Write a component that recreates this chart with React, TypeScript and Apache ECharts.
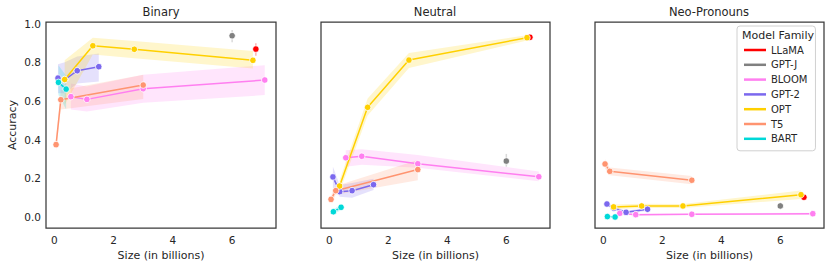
import React, { useEffect, useRef } from 'react';
import * as echarts from 'echarts';

const families = ['LLaMA', 'GPT-J', 'BLOOM', 'GPT-2', 'OPT', 'T5', 'BART'];
const familyColors = ['#ff0000', '#808080', '#ff7ff0', '#7b68ee', '#ffd000', '#ff9470', '#00d8d8'];
const panelTitles = ['Binary', 'Neutral', 'Neo-Pronouns'];

// model sizes (in billions), per family
const llamaSize = [6.8];
const gptjSize = [6.0];
const bloomSize = [0.56, 1.1, 3.0, 7.1];
const gpt2Size = [0.124, 0.355, 0.774, 1.5];
const optSize = [0.35, 1.3, 2.7, 6.7];
const t5Size = [0.06, 0.22, 3.0];
const bartSize = [0.14, 0.4];
const familySizes = [llamaSize, gptjSize, bloomSize, gpt2Size, optSize, t5Size, bartSize];

// Binary: mean accuracy, lower / upper confidence
const binaryAcc = [[0.868], [0.937], [0.622, 0.608, 0.663, 0.708], [0.718, 0.71, 0.756, 0.777], [0.711, 0.885, 0.867, 0.81], [0.374, 0.606, 0.682], [0.696, 0.661]];
const binaryLo = [[0.834], [0.903], [0.555, 0.545, 0.59, 0.63], [0.64, 0.64, 0.69, 0.70], [0.58, 0.84, 0.82, 0.768], [0.34, 0.555, 0.61], [0.63, 0.555]];
const binaryHi = [[0.898], [0.966], [0.69, 0.675, 0.735, 0.785], [0.79, 0.80, 0.83, 0.845], [0.81, 0.927, 0.91, 0.858], [0.40, 0.655, 0.735], [0.785, 0.73]];

// Neutral
const neutralAcc = [[0.929], [0.289], [0.306, 0.314, 0.275, 0.208], [0.207, 0.131, 0.136, 0.167], [0.160, 0.567, 0.811, 0.927], [0.091, 0.136, 0.245], [0.027, 0.05]];
const neutralLo = [[0.92], [0.26], [0.26, 0.27, 0.255, 0.185], [0.15, 0.105, 0.10, 0.14], [0.13, 0.525, 0.77, 0.912], [0.07, 0.115, 0.19], [0.015, 0.035]];
const neutralHi = [[0.938], [0.326], [0.345, 0.35, 0.32, 0.235], [0.26, 0.165, 0.175, 0.197], [0.19, 0.612, 0.848, 0.94], [0.11, 0.16, 0.295], [0.04, 0.065]];

// Neo-Pronouns
const neoAcc = [[0.102], [0.057], [0.019, 0.012, 0.014, 0.017], [0.067, 0.045, 0.024, 0.040], [0.052, 0.057, 0.057, 0.115], [0.274, 0.236, 0.19], [0.002, 0.0]];
const neoLo = [[0.088], [0.052], [0.014, 0.008, 0.01, 0.012], [0.058, 0.036, 0.016, 0.032], [0.04, 0.046, 0.047, 0.093], [0.25, 0.216, 0.169], [-0.003, -0.004]];
const neoHi = [[0.116], [0.062], [0.024, 0.017, 0.018, 0.022], [0.076, 0.054, 0.032, 0.048], [0.064, 0.068, 0.067, 0.137], [0.298, 0.256, 0.212], [0.007, 0.005]];

const panelAcc = [binaryAcc, neutralAcc, neoAcc];
const panelLo = [binaryLo, neutralLo, neoLo];
const panelHi = [binaryHi, neutralHi, neoHi];

const yTicks = [0, 0.2, 0.4, 0.6, 0.8, 1.0];
const xTicks = [0, 2, 4, 6];

const FONT = 'DejaVu Sans';
const TEXT = '#262626';

export default function App() {
  const ref = useRef<HTMLDivElement>(null);
  useEffect(() => {
    document.body.style.margin = '0';
    const chart = echarts.init(ref.current!, null, { renderer: 'svg' });
    const grids = [
      { left: 46, top: 22, width: 230, height: 206 },
      { left: 321, top: 22, width: 229, height: 206 },
      { left: 595, top: 22, width: 229, height: 206 },
    ].map((g) => ({ ...g, show: true, borderColor: '#3a3a3a', borderWidth: 1.25, backgroundColor: 'transparent' }));

    const xAxes = grids.map((_, p) => ({
      type: 'value', gridIndex: p, min: -0.28, max: 7.48,
      axisLine: { show: false }, axisTick: { show: false }, splitLine: { show: false },
      axisLabel: { customValues: xTicks, color: TEXT, fontSize: 10.5, fontFamily: FONT, margin: 6 },
      name: 'Size (in billions)', nameLocation: 'middle', nameGap: 19,
      nameTextStyle: { color: TEXT, fontSize: 11, fontFamily: FONT },
    }));
    const yAxes = grids.map((_, p) => ({
      type: 'value', gridIndex: p, min: -0.057, max: 1.008,
      axisLine: { show: false }, axisTick: { show: false }, splitLine: { show: false },
      axisLabel: { show: p === 0, customValues: yTicks, formatter: (v: number) => v.toFixed(1), color: TEXT, fontSize: 10.5, fontFamily: FONT, margin: 5 },
      name: p === 0 ? 'Accuracy' : '', nameLocation: 'middle', nameGap: 28,
      nameTextStyle: { color: TEXT, fontSize: 11, fontFamily: FONT },
    }));

    const series: any[] = [];
    for (let p = 0; p < 3; p++) {
      families.forEach((fam, f) => {
        const sizes = familySizes[f];
        const lo = panelLo[p][f];
        const hi = panelHi[p][f];
        const color = familyColors[f];
        series.push({
          type: 'custom', xAxisIndex: p, yAxisIndex: p, silent: true, z: 1,
          data: sizes.map((s, i) => [s, lo[i], hi[i]]),
          encode: { x: 0, y: [1, 2] },
          renderItem: (params: any, api: any) => {
            if (params.dataIndex !== 0) return null;
            const top = sizes.map((s, i) => api.coord([s, hi[i]]));
            const bot = sizes.map((s, i) => api.coord([s, lo[i]])).reverse();
            if (sizes.length === 1) {
              return { type: 'line', shape: { x1: top[0][0], y1: top[0][1], x2: bot[0][0], y2: bot[0][1] }, style: { stroke: color, opacity: 0.3, lineWidth: 1.5 } };
            }
            return { type: 'polygon', shape: { points: top.concat(bot) }, style: { fill: color, opacity: 0.2 } };
          },
        });
      });
    }
    for (let p = 0; p < 3; p++) {
      families.forEach((fam, f) => {
        const sizes = familySizes[f];
        const acc = panelAcc[p][f];
        const color = familyColors[f];
        series.push({
          name: fam, type: 'line', xAxisIndex: p, yAxisIndex: p, z: 3,
          data: sizes.map((s, i) => [s, acc[i]]),
          symbol: 'circle', symbolSize: 6.5, showSymbol: true,
          itemStyle: { color, borderColor: '#ffffff', borderWidth: 0.8 },
          lineStyle: { color, width: 1.5 },
          emphasis: { disabled: true },
        });
      });
    }

    const graphics: any[] = [
      ...panelTitles.map((t, i) => ({
        type: 'text', x: [161, 435, 709][i], y: 11.5,
        style: { text: t, align: 'center', verticalAlign: 'middle', fontSize: 11.5, fontFamily: FONT, fill: TEXT },
      })),
      {
        type: 'text', x: 778, y: 35, z: 100,
        style: { text: 'Model Family', align: 'center', verticalAlign: 'middle', fontSize: 11, fontFamily: FONT, fill: TEXT },
      },
    ];

    chart.setOption({
      animation: false,
      grid: grids,
      xAxis: xAxes,
      yAxis: yAxes,
      series,
      legend: {
        data: families, orient: 'vertical', left: 737, top: 26,
        padding: [17, 8, 5, 7], itemGap: 0.8, itemWidth: 22, itemHeight: 2.5,
        icon: 'rect', selectedMode: false,
        itemStyle: { borderWidth: 0 },
        textStyle: { color: TEXT, fontSize: 10, fontFamily: FONT, lineHeight: 14 },
        borderColor: '#d0d0d0', borderWidth: 1, borderRadius: 3,
        backgroundColor: 'rgba(255,255,255,0.85)',
      },
      graphic: graphics,
    });
    return () => chart.dispose();
  }, []);
  return <div ref={ref} style={{ width: 830, height: 267 }} />;
}
